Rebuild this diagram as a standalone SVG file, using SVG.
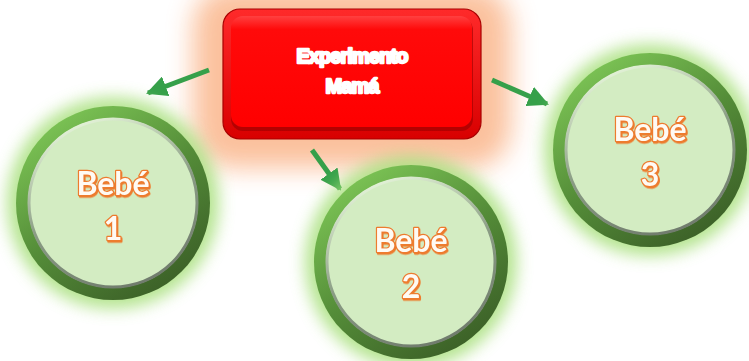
<svg xmlns="http://www.w3.org/2000/svg" width="749" height="361" viewBox="0 0 749 361">
  <style>
    .ring { fill: url(#ringGrad); }
    .rim { fill: none; stroke: url(#rimGrad); stroke-width: 3; }
    .disk { fill: #d3ecc2; }
    .halo { fill: #a3de74; opacity: 0.8; filter: url(#softGlow); }
    .baby { font-family: Lato, "Open Sans", "Liberation Sans", sans-serif; font-weight: bold; font-size: 32px; text-anchor: middle; fill: #fffaf4; stroke: #ed7b2e; stroke-width: 2.4px; paint-order: stroke; stroke-linejoin: round; filter: url(#orangeShadow); }
    .mom { font-family: "Liberation Sans", Arial, sans-serif; font-weight: bold; font-size: 20px; text-anchor: middle; fill: #ffffff; stroke: #ffffff; stroke-width: 2.4px; stroke-linejoin: round; letter-spacing: -0.9px; }
    .link { stroke: #36a04a; stroke-width: 5; fill: none; marker-end: url(#head); }
  </style>
  <defs>
    <linearGradient id="ringGrad" x1="0.2" y1="0.05" x2="0.8" y2="0.95">
      <stop offset="0" stop-color="#7cc455"/>
      <stop offset="0.5" stop-color="#548c38"/>
      <stop offset="1" stop-color="#3b5f27"/>
    </linearGradient>
    <linearGradient id="rimGrad" x1="0.3" y1="0" x2="0.7" y2="1">
      <stop offset="0" stop-color="#e6f5da"/>
      <stop offset="0.5" stop-color="#8a9c84"/>
      <stop offset="1" stop-color="#6f7a6c"/>
    </linearGradient>
    <linearGradient id="boxGrad" x1="0" y1="0" x2="0" y2="1">
      <stop offset="0" stop-color="#ff2a2a"/>
      <stop offset="1" stop-color="#d80000"/>
    </linearGradient>
    <linearGradient id="faceGrad" x1="0" y1="0" x2="0" y2="1">
      <stop offset="0" stop-color="#ff4040"/>
      <stop offset="0.12" stop-color="#ff0a0a"/>
      <stop offset="1" stop-color="#ff0000"/>
    </linearGradient>
    <filter id="softGlow" x="-30%" y="-30%" width="160%" height="160%">
      <feGaussianBlur stdDeviation="8"/>
    </filter>
    <filter id="boxGlow" x="-40%" y="-60%" width="180%" height="220%">
      <feGaussianBlur stdDeviation="13"/>
    </filter>
    <filter id="orangeShadow" x="-20%" y="-20%" width="140%" height="140%">
      <feDropShadow dx="1" dy="1.5" stdDeviation="0.3" flood-color="#ed7b2e"/>
    </filter>
    <marker id="head" viewBox="0 0 10 10" refX="9" refY="5" markerWidth="4.2" markerHeight="4.2" orient="auto" markerUnits="strokeWidth">
      <path d="M0,0 L10,5 L0,10 Z" fill="#36a04a"/>
    </marker>
  </defs>

  <rect width="749" height="361" fill="#ffffff"/>

  <!-- central node -->
  <g id="mama">
    <rect x="193" y="-14" width="318" height="182" rx="40" fill="#fbbe98" opacity="0.95" filter="url(#boxGlow)"/>
    <rect x="223" y="9" width="258" height="130" rx="17" fill="url(#boxGrad)" stroke="#a80000" stroke-width="1.2"/>
    <rect x="231" y="18" width="242" height="113" rx="12" fill="#9a0000" opacity="0.6"/>
    <rect x="231" y="16" width="241" height="111" rx="12" fill="url(#faceGrad)"/>
    <text class="mom" x="352" y="63">Experimento</text>
    <text class="mom" x="352" y="93">Mamá</text>
  </g>

  <!-- connectors -->
  <g id="links">
    <line class="link" x1="209" y1="70" x2="148" y2="93"/>
    <line class="link" x1="312" y1="150" x2="340" y2="189"/>
    <line class="link" x1="492" y1="80" x2="547" y2="104"/>
  </g>

  <g id="bebe1">
    <circle class="halo" cx="113" cy="203" r="106"/>
    <circle class="ring" cx="113" cy="203" r="97"/>
    <circle class="disk" cx="113" cy="203" r="85"/>
    <circle class="rim" cx="113" cy="203" r="84"/>
    <text class="baby" x="113" y="195">Bebé</text>
    <text class="baby" x="113" y="240">1</text>
  </g>

  <g id="bebe2">
    <circle class="halo" cx="411" cy="262" r="106"/>
    <circle class="ring" cx="411" cy="262" r="97"/>
    <circle class="disk" cx="411" cy="262" r="85"/>
    <circle class="rim" cx="411" cy="262" r="84"/>
    <text class="baby" x="411" y="252">Bebé</text>
    <text class="baby" x="411" y="298">2</text>
  </g>

  <g id="bebe3">
    <circle class="halo" cx="650" cy="150" r="106"/>
    <circle class="ring" cx="650" cy="150" r="97"/>
    <circle class="disk" cx="650" cy="150" r="85"/>
    <circle class="rim" cx="650" cy="150" r="84"/>
    <text class="baby" x="650" y="141">Bebé</text>
    <text class="baby" x="650" y="186">3</text>
  </g>
</svg>
